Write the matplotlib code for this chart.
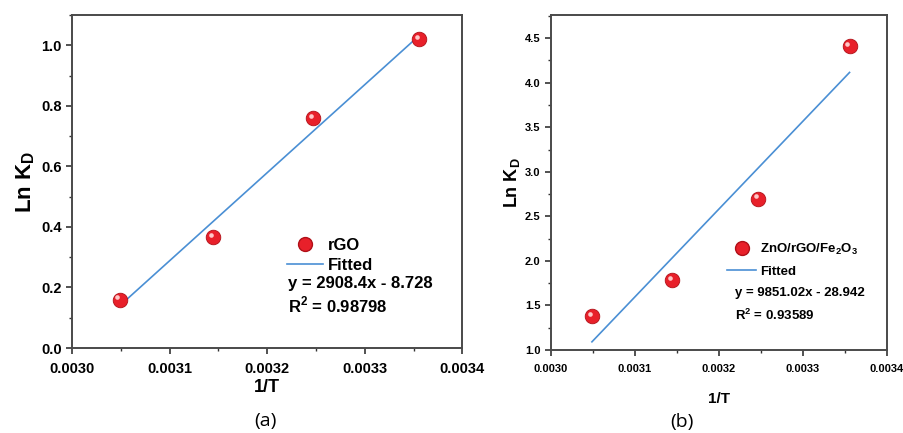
import numpy as np
import matplotlib
matplotlib.use("Agg")
import matplotlib.pyplot as plt
import matplotlib.lines as mlines
from matplotlib.transforms import offset_copy
from matplotlib.ticker import MultipleLocator

# Data
temps = [328, 318, 308, 298]
inv_t = [1.0 / t for t in temps]
lnkd_rgo = [0.16, 0.365, 0.76, 1.02]
lnkd_zno = [1.38, 1.79, 2.70, 4.41]
fit_rgo = (2908.4, -8.728)
fit_zno = (9851.02, -28.942)
eq_rgo = 'y = 2908.4x - 8.728'
eq_zno = 'y = 9851.02x - 28.942'
r2_rgo = 0.98798
r2_zno = 0.93589

red = '#e8202a'
blue = '#4a8fd4'

plt.rcParams['font.family'] = ['Liberation Sans', 'DejaVu Sans']
plt.rcParams['mathtext.fontset'] = 'custom'
plt.rcParams['mathtext.rm'] = 'Liberation Sans'
plt.rcParams['mathtext.bf'] = 'Liberation Sans:bold'


def sphere(ax, x, y, size):
    """
    Draw red balls with a small highlight
    """
    ax.scatter(x, y, s = size, color = red, edgecolors = '#b01018',
               linewidths = 0.6, zorder = 3)
    hl = offset_copy(ax.transData, fig = ax.figure, x = -1.5, y = 1.5,
                     units = 'points')
    ax.scatter(x, y, s = size * 0.1, color = '#ffc8c8', linewidths = 0,
               transform = hl, zorder = 4)


def panel(ax, y, fit, eq, r2, name, ylim, yticks, ymin, fs, lfs, lsp,
          lx, ly, tx, ty, dy):
    xs = np.array([min(inv_t), max(inv_t)])
    ax.plot(xs, fit[0] * xs + fit[1], color = blue, lw = 1.2, zorder = 2)
    sphere(ax, inv_t, y, 110)

    ax.set_xlim(0.0030, 0.0034)
    ax.set_ylim(*ylim)
    ax.xaxis.set_major_locator(MultipleLocator(0.0001))
    ax.xaxis.set_minor_locator(MultipleLocator(0.00005))
    ax.yaxis.set_major_locator(MultipleLocator(yticks))
    ax.yaxis.set_minor_locator(MultipleLocator(ymin))
    ax.xaxis.set_major_formatter(plt.FuncFormatter(lambda v, p: '%.4f' % v))
    ax.yaxis.set_major_formatter(plt.FuncFormatter(lambda v, p: '%.1f' % v))
    ax.tick_params(which = 'both', direction = 'out', top = False, right = False,
                   color = '#333333')
    ax.tick_params(which = 'major', length = 4, width = 1.2, labelsize = fs)
    ax.tick_params(axis = 'x', which = 'major', pad = 6)
    ax.tick_params(which = 'minor', length = 2.5, width = 1.0)
    for lab in ax.get_xticklabels() + ax.get_yticklabels():
        lab.set_fontweight('bold')
    for sp in ax.spines.values():
        sp.set_linewidth(1.4)
        sp.set_color('#4a4a4a')

    # Legend built by hand
    ball = mlines.Line2D([], [], color = red, marker = 'o', linestyle = 'None',
                         markersize = 10, markeredgecolor = '#b01018',
                         label = name)
    line = mlines.Line2D([], [], color = blue, lw = 1.2, label = 'Fitted')
    ax.legend(handles = [ball, line], loc = 'lower left',
              bbox_to_anchor = (lx, ly), frameon = False,
              prop = {'weight': 'bold', 'size': lfs},
              handlelength = 2.2, handletextpad = 0.3, labelspacing = lsp,
              borderaxespad = 0, borderpad = 0)
    ax.text(tx, ty, eq, transform = ax.transAxes, fontsize = lfs,
            fontweight = 'bold', va = 'center')
    ax.text(tx, ty - dy, r'R$^\mathbf{2}$ = %.5f' % r2,
            transform = ax.transAxes, fontsize = lfs, fontweight = 'bold',
            va = 'center')


fig = plt.figure(figsize = (9.04, 4.33), dpi = 100)
ax1 = fig.add_axes([0.0796, 0.1963, 0.4318, 0.7691])
ax2 = fig.add_axes([0.6095, 0.1917, 0.3714, 0.7737])

panel(ax1, lnkd_rgo, fit_rgo, eq_rgo, r2_rgo, 'rGO', (0.0, 1.1), 0.2, 0.1,
      10.5, 12, 0.3, 0.55, 0.225, 0.554, 0.195, 0.066)
panel(ax2, lnkd_zno, fit_zno, eq_zno, r2_zno,
      r'ZnO/rGO/Fe$_\mathbf{2}$O$_\mathbf{3}$',
      (1.0, 4.76), 0.5, 0.25, 8, 9.5, 0.65, 0.525, 0.215, 0.548, 0.17, 0.066)

ax1.set_xlabel('1/T', fontsize = 13, fontweight = 'bold', labelpad = 2)
ax1.set_ylabel(r'Ln K$_\mathbf{D}$', fontsize = 16, fontweight = 'bold',
               labelpad = 3)
ax2.set_xlabel('1/T', fontsize = 11, fontweight = 'bold', labelpad = 13)
ax2.set_ylabel(r'Ln K$_\mathbf{D}$', fontsize = 13, fontweight = 'bold',
               labelpad = 2)

fig.text(265 / 904, 1 - 421 / 433, '(a)', fontsize = 14, ha = 'center',
         va = 'center', family = ['Open Sans', 'DejaVu Sans'])
fig.text(682 / 904, 1 - 422 / 433, '(b)', fontsize = 14, ha = 'center',
         va = 'center', family = ['Open Sans', 'DejaVu Sans'])

plt.savefig('out.png', dpi = 100)
